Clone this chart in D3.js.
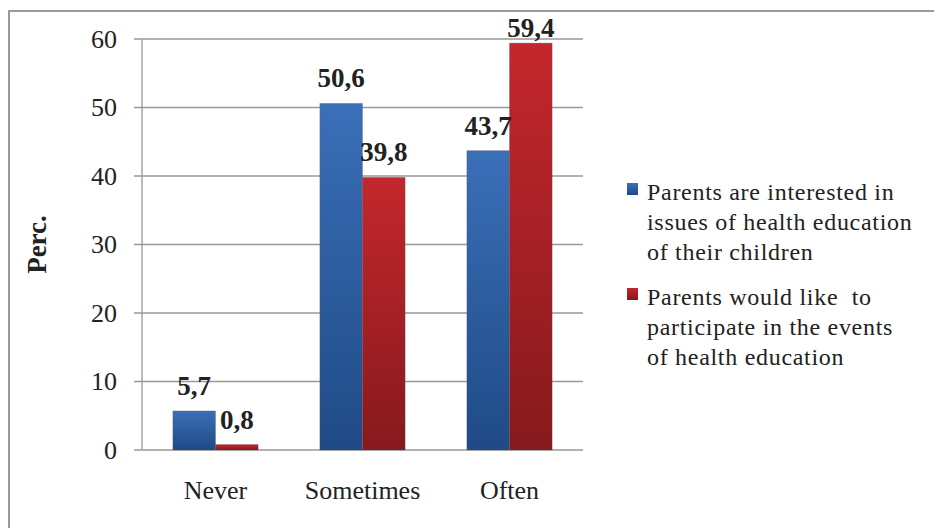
<!DOCTYPE html>
<html>
<head>
<meta charset="utf-8">
<script src="https://cdn.jsdelivr.net/npm/d3@7"></script>
<style>
  body { margin: 0; background: #fff; }
  svg { display: block; }
  text { font-family: "Liberation Serif", "Times New Roman", Times, serif; }
</style>
</head>
<body>
<svg id="chart" width="934" height="528"></svg>
<script>
const categories = ['Never', 'Sometimes', 'Often'];
const seriesNames = [
  ['Parents are interested in', 'issues of health education', 'of their children'],
  ['Parents would like  to', 'participate in the events', 'of health education']
];
const interested = [5.7, 50.6, 43.7];
const participate = [0.8, 39.8, 59.4];
const yTicks = [0, 10, 20, 30, 40, 50, 60];

const svg = d3.select('#chart');
const margin = { top: 39, left: 142, right: 351, bottom: 78 };   // plot area
const width = 934, height = 528;

// gradients for the bars (top lighter, bottom darker)
const defs = svg.append('defs');
const grads = [
  { id: 'gBlue', top: '#3b6fb8', bottom: '#1f4a86' },
  { id: 'gRed', top: '#c4272d', bottom: '#86191d' }
];
grads.forEach(g => {
  const lg = defs.append('linearGradient').attr('id', g.id)
    .attr('x1', 0).attr('y1', 0).attr('x2', 0).attr('y2', 1);
  lg.append('stop').attr('offset', '0%').attr('stop-color', g.top);
  lg.append('stop').attr('offset', '100%').attr('stop-color', g.bottom);
});

// outer frame
svg.append('rect')
  .attr('x', 9).attr('y', 11)
  .attr('width', width + 20).attr('height', height + 20)
  .attr('fill', 'none')
  .attr('stroke', '#9a9a9a')
  .attr('stroke-width', 2);

const x = d3.scaleBand(categories, [margin.left, width - margin.right])
  .paddingInner(0.42).paddingOuter(0.21);
const xSub = d3.scaleBand([0, 1], [0, x.bandwidth()]);
const y = d3.scaleLinear([0, 60], [height - margin.bottom, margin.top]);

// gridlines + ticks
svg.append('g')
  .selectAll('line')
  .data(yTicks)
  .join('line')
    .attr('x1', margin.left - 8)
    .attr('x2', width - margin.right)
    .attr('y1', d => y(d))
    .attr('y2', d => y(d))
    .attr('stroke', '#999')
    .attr('stroke-width', 1.3);

// y axis line
svg.append('line')
  .attr('x1', margin.left).attr('x2', margin.left)
  .attr('y1', y(60)).attr('y2', y(0))
  .attr('stroke', '#999')
  .attr('stroke-width', 1.3);

// y tick labels
svg.append('g')
  .selectAll('text')
  .data(yTicks)
  .join('text')
    .attr('x', margin.left - 25)
    .attr('y', d => y(d))
    .attr('dy', '0.34em')
    .attr('text-anchor', 'end')
    .attr('font-size', 26)
    .attr('fill', '#222')
    .text(d => d);

// y axis title
svg.append('text')
  .attr('transform', `translate(46, ${y(30)}) rotate(-90)`)
  .attr('text-anchor', 'middle')
  .attr('font-size', 27)
  .attr('font-weight', 'bold')
  .attr('fill', '#222')
  .text('Perc.');

// bars
const rows = categories.map((c, i) => ({ cat: c, vals: [interested[i], participate[i]] }));
const groups = svg.append('g')
  .selectAll('g')
  .data(rows)
  .join('g')
    .attr('transform', d => `translate(${x(d.cat)}, 0)`);

groups.selectAll('rect')
  .data(d => d.vals.map((v, k) => ({ v, k })))
  .join('rect')
    .attr('x', d => xSub(d.k))
    .attr('y', d => y(d.v))
    .attr('width', xSub.bandwidth())
    .attr('height', d => y(0) - y(d.v))
    .attr('fill', d => `url(#${grads[d.k].id})`)
    .attr('stroke', 'rgba(90,90,90,0.35)')
    .attr('stroke-width', 0.8);

// value labels
groups.selectAll('text')
  .data(d => d.vals.map((v, k) => ({ v, k })))
  .join('text')
    .attr('x', d => xSub(d.k) + xSub.bandwidth() / 2)
    .attr('y', d => Math.max(y(d.v) - 16, margin.top - 2))
    .attr('text-anchor', 'middle')
    .attr('font-size', 27)
    .attr('font-weight', 'bold')
    .attr('fill', '#222')
    .text(d => d3.format('.1f')(d.v).replace('.', ','));

// category labels
svg.append('g')
  .selectAll('text')
  .data(categories)
  .join('text')
    .attr('x', d => x(d) + x.bandwidth() / 2)
    .attr('y', 499)
    .attr('text-anchor', 'middle')
    .attr('font-size', 26)
    .attr('fill', '#222')
    .text(d => d);

// legend
const legend = svg.append('g').attr('transform', 'translate(627, 183)');
const entry = legend.selectAll('g')
  .data(seriesNames)
  .join('g')
    .attr('transform', (d, i) => `translate(0, ${i * 105})`);
entry.append('rect')
  .attr('width', 11).attr('height', 12)
  .attr('fill', (d, i) => `url(#${grads[i].id})`);
entry.append('text')
  .attr('font-size', 24)
  .attr('letter-spacing', 0.7)
  .attr('fill', '#222')
  .selectAll('tspan')
  .data(d => d)
  .join('tspan')
    .attr('x', 20)
    .attr('y', (d, j) => 17 + j * 30)
    .attr('xml:space', 'preserve')
    .text(d => d);
</script>
</body>
</html>
